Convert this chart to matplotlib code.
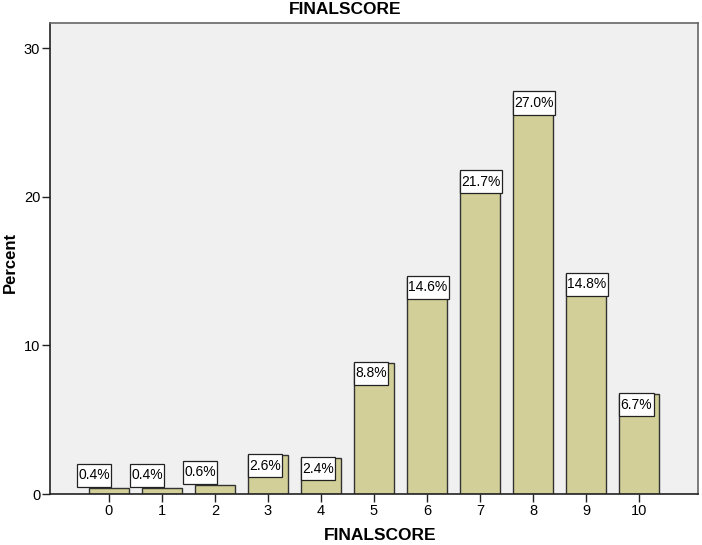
import matplotlib

matplotlib.use("Agg")
import matplotlib.pyplot as plt
from matplotlib.path import Path

scores = [0, 1, 2, 3, 4, 5, 6, 7, 8, 9, 10]
percent = [0.4, 0.4, 0.6, 2.6, 2.4, 8.8, 14.6, 21.7, 27.0, 14.8, 6.7]
yticks = [0, 10, 20, 30]

plt.rcParams["font.family"] = ["Liberation Sans", "DejaVu Sans"]

PADX, PADY = 0.1, 0.33  # label box padding, fraction of font size


def label_box(x0, y0, width, height, mutation_size):
    # SPSS style box: tight left/right, roomier top/bottom
    px, py = PADX * mutation_size, PADY * mutation_size
    xa, ya, xb, yb = x0 - px, y0 - py, x0 + width + px, y0 + height + py
    return Path([(xa, ya), (xb, ya), (xb, yb), (xa, yb), (xa, ya)], closed=True)


fig = plt.figure(figsize=(7.02, 5.45), dpi=100)
ax = fig.add_axes([50 / 702, 51 / 545, 648 / 702, 471 / 545])
ax.set_facecolor("#f0f0f0")

width = 0.755
ax.bar(scores, percent, width=width, color="#d3cf98", edgecolor="#333333", linewidth=1.0, zorder=2)

fs = 10
px_pt, py_pt = PADX * fs, PADY * fs
for x, v in zip(scores, percent):
    left = x - width / 2
    if v > 1.5:
        off, va = (px_pt, -py_pt + 1.0), "top"
    else:
        off, va = (-8.6 + px_pt, 1.0 + py_pt), "bottom"
    ax.annotate(f"{v:.1f}%", xy=(left, v), xytext=off, textcoords="offset points",
                ha="left", va=va, fontsize=fs, zorder=3,
                bbox=dict(boxstyle=label_box, fc="white", ec="#222222", lw=0.9))

ax.set_xlim(-1.11, 11.11)
ax.set_ylim(0, 31.7)
ax.set_xticks(scores)
ax.set_yticks(yticks)
ax.tick_params(axis="both", direction="out", length=5.5, width=1, labelsize=10.5, color="#222222", pad=1.5)

for side in ["top", "right"]:
    ax.spines[side].set_color("#666666")
    ax.spines[side].set_linewidth(1.2)
for side in ["left", "bottom"]:
    ax.spines[side].set_color("#222222")
    ax.spines[side].set_linewidth(1.2)

fig.text(345 / 702, 1 - 9 / 545, "FINALSCORE", ha="center", va="center", fontsize=12.5, fontweight="bold")
ax.set_xlabel("FINALSCORE", fontsize=12.5, fontweight="bold", va="center")
ax.xaxis.set_label_coords((380 - 50) / 648, (494 - 535) / 471)
ax.set_ylabel("Percent", fontsize=12, fontweight="bold", va="center", ha="center")
ax.yaxis.set_label_coords((10 - 50) / 648, (494 - 262) / 471)

fig.savefig("out.png", dpi=100)
plt.close(fig)
